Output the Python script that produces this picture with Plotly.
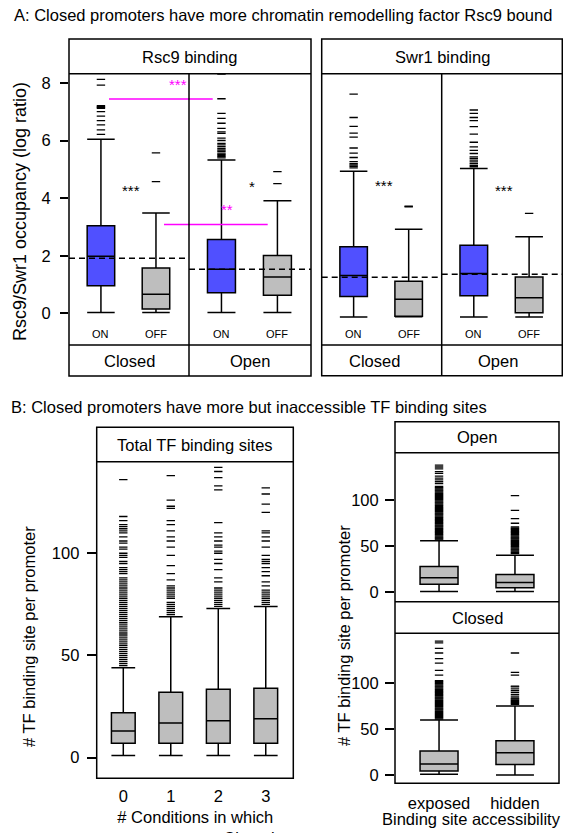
import plotly.graph_objects as go

W, H = 563, 833
FONT = "Liberation Sans, Arial, sans-serif"

# ---------------- DATA ----------------
onoff = ["ON", "OFF"]
# Rsc9 binding: Closed / Open, each ON / OFF  (lowerfence, q1, median, q3, upperfence)
rsc9_closed_stats = {"ON": [0.03, 0.96, 1.98, 3.04, 6.04], "OFF": [0.03, 0.15, 0.66, 1.57, 3.48]}
rsc9_open_stats = {"ON": [0.03, 0.71, 1.53, 2.56, 5.32], "OFF": [0.03, 0.63, 1.26, 2.01, 3.91]}
rsc9_closed_out = {"ON": [6.21, 6.37, 6.54, 6.69, 6.85, 7.0, 7.12, 7.15, 7.18, 7.21, 7.92, 8.12],
                   "OFF": [4.57, 5.57]}
rsc9_open_out = {"ON": [5.40, 5.44, 5.48, 5.52, 5.56, 5.62, 5.67, 5.73, 5.79, 5.85, 5.90, 6.0, 6.08,
                        6.25, 6.3, 6.42, 6.6, 6.77, 6.94, 7.45, 8.31, 8.45],
                 "OFF": [4.50, 4.92]}
rsc9_ref = {"Closed": 1.91, "Open": 1.53}

swr1_closed_stats = {"ON": [-0.13, 0.58, 1.31, 2.31, 4.93], "OFF": [-0.12, -0.10, 0.49, 1.11, 2.92]}
swr1_open_stats = {"ON": [-0.13, 0.61, 1.38, 2.36, 5.03], "OFF": [-0.13, 0.02, 0.54, 1.26, 2.66]}
swr1_closed_out = {"ON": [5.05, 5.1, 5.15, 5.2, 5.27, 5.41, 5.56, 5.74, 6.12, 6.26, 6.49, 6.8, 7.61],
                   "OFF": [3.70, 3.72]}
swr1_open_out = {"ON": [5.09, 5.14, 5.2, 5.26, 5.32, 5.38, 5.43, 5.55, 5.66, 5.78, 5.94, 6.22, 6.48,
                        6.69, 6.8, 6.94, 7.06],
                 "OFF": [3.47]}
swr1_ref = {"Closed": 1.25, "Open": 1.36}

rsc9_sig = {"Closed": ("***", 4.26), "Open": ("*", 4.4)}
swr1_sig = {"Closed": ("***", 4.45), "Open": ("***", 4.25)}
magenta_sig = [("***", 7.44, 7.93), ("**", 3.08, 3.59)]

# Total TF binding sites by # conditions closed
cond_labels = ["0", "1", "2", "3"]
tf_stats = [[1, 7, 13, 22, 44], [1, 7, 17, 32, 69], [1, 7, 18, 33.5, 73], [1, 7, 19, 34, 74]]
tf_out = [
    list(range(45, 89)) + [90, 91, 92, 93, 95, 96, 98, 99, 100, 102, 103, 105, 106, 108, 110, 111,
                           112, 113, 114, 116, 118, 136],
    [70, 71, 72, 73, 74, 75, 76, 78, 79, 80, 81, 82, 83, 84, 87, 90, 94, 99, 103, 106, 108, 111,
     114, 116, 122, 123, 126, 138],
    [74, 75, 76, 77, 78, 79, 80, 81, 82, 83, 86, 88, 92, 95, 97, 100, 101, 103, 104, 106, 108, 110,
     115, 131, 133, 137, 140, 142],
    [75, 76, 77, 78, 79, 80, 81, 82, 84, 86, 89, 91, 93, 95, 96, 97, 99, 103, 106, 108, 110, 111,
     120, 124, 129, 132],
]

# Binding site accessibility
access_labels = ["exposed", "hidden"]
open_stats = [[1, 8.7, 15.9, 28.2, 56], [1, 5, 10.8, 19.5, 40.4]]
open_out = [list(range(57, 116)) + [118, 120, 122, 124, 126, 129, 131, 134, 136, 138],
            list(range(42, 72)) + [75, 80, 89, 105]]
closed_stats = [[1, 4.4, 12, 26.2, 60], [0, 11.6, 24.4, 37.4, 75.2]]
closed_out = [list(range(61, 104)) + [109, 114, 122, 127, 133, 138, 144, 146],
              [77, 78, 79, 80, 81, 82, 83, 84, 86, 88, 90, 92, 94, 96, 97, 109, 112, 133]]

BLUE = "#5050FF"
GRAY = "#BEBEBE"
MAG = "#FF00FF"
FS = 16.5


def px(x):
    return x / W


def py(y):
    return 1 - y / H


fig = go.Figure()
layout = dict(width=W, height=H, margin=dict(l=0, r=0, t=0, b=0), showlegend=False,
              plot_bgcolor="white", paper_bgcolor="white", font=dict(family=FONT, color="black"))
shapes = []
annotations = []

LW = 1.5


def add_axis(n, xdom, ydom, xrange, yrange, **kw):
    xk = "xaxis" if n == 1 else f"xaxis{n}"
    yk = "yaxis" if n == 1 else f"yaxis{n}"
    ya = "y" if n == 1 else f"y{n}"
    xa = "x" if n == 1 else f"x{n}"
    xax = dict(domain=[px(xdom[0]), px(xdom[1])], range=xrange, anchor=ya, showgrid=False,
               zeroline=False, showticklabels=False, ticks="", fixedrange=True)
    yax = dict(domain=[py(ydom[1]), py(ydom[0])], range=yrange, anchor=xa, showgrid=False,
               zeroline=False, showticklabels=False, ticks="", fixedrange=True)
    xax.update(kw.get("x", {}))
    yax.update(kw.get("y", {}))
    layout[xk] = xax
    layout[yk] = yax
    return xa, ya


def add_box(xa, ya, pos, stats, fill, width=0.5):
    lo, q1, med, q3, hi = stats
    fig.add_trace(go.Box(x=[pos], lowerfence=[lo], q1=[q1], median=[med], q3=[q3], upperfence=[hi],
                         xaxis=xa, yaxis=ya, width=width, whiskerwidth=1, fillcolor=fill,
                         line=dict(color="black", width=LW), boxpoints=False, hoverinfo="skip"))


def add_out(xa, ya, pos, vals, size=6):
    fig.add_trace(go.Scatter(x=[pos] * len(vals), y=vals, mode="markers", xaxis=xa, yaxis=ya,
                             marker=dict(symbol="line-ew", size=size,
                                         line=dict(width=1.3, color="black")),
                             hoverinfo="skip"))


def rect(x0, y0, x1, y1):
    shapes.append(dict(type="rect", xref="paper", yref="paper", x0=px(x0), x1=px(x1), y0=py(y0),
                       y1=py(y1), line=dict(color="black", width=LW), layer="above"))


def hline(x0, x1, y):
    shapes.append(dict(type="line", xref="paper", yref="paper", x0=px(x0), x1=px(x1), y0=py(y),
                       y1=py(y), line=dict(color="black", width=LW), layer="above"))


def vline(x, y0, y1):
    shapes.append(dict(type="line", xref="paper", yref="paper", x0=px(x), x1=px(x), y0=py(y0),
                       y1=py(y1), line=dict(color="black", width=LW), layer="above"))


def text(x, y, s, size=FS, color="black", angle=0, xanchor="center"):
    annotations.append(dict(xref="paper", yref="paper", x=px(x), y=py(y), text=s, showarrow=False,
                            font=dict(size=size, color=color, family=FONT), textangle=angle,
                            xanchor=xanchor, yanchor="middle"))


# ---------------- Panel A ----------------
A_Y = [-1.1, 8.32]
A_X = [0.42, 2.6]
A_top, A_bot = 73.7, 345
ytick_A = dict(showticklabels=True, ticks="outside", ticklen=8, tickwidth=LW, tickcolor="black",
               tickvals=[0, 2, 4, 6, 8], tickfont=dict(size=FS, family=FONT),
               ticklabelstandoff=6)

panelsA = [
    (1, (69, 189), rsc9_closed_stats, rsc9_closed_out, rsc9_ref["Closed"], rsc9_sig["Closed"], True),
    (2, (189, 311), rsc9_open_stats, rsc9_open_out, rsc9_ref["Open"], rsc9_sig["Open"], False),
    (3, (321.7, 441.7), swr1_closed_stats, swr1_closed_out, swr1_ref["Closed"], swr1_sig["Closed"], False),
    (4, (441.7, 562.3), swr1_open_stats, swr1_open_out, swr1_ref["Open"], swr1_sig["Open"], False),
]
for n, xd, st, out, ref, sig, showy in panelsA:
    kw = {"y": ytick_A} if showy else {}
    xa, ya = add_axis(n, xd, (A_top, A_bot), A_X, A_Y, **kw)
    for i, k in enumerate(onoff):
        pos = i + 1
        add_box(xa, ya, pos, st[k], BLUE if k == "ON" else GRAY)
        add_out(xa, ya, pos, out[k])
        annotations.append(dict(xref=xa, yref=ya, x=pos, y=-0.72, text=k, showarrow=False,
                                font=dict(size=11, family=FONT)))
    shapes.append(dict(type="line", xref=f"{xa} domain", yref=ya, x0=0, x1=1, y0=ref, y1=ref,
                       line=dict(color="black", width=LW, dash="6px,4px")))
    annotations.append(dict(xref=xa, yref=ya, x=1.55, y=sig[1], text=sig[0], showarrow=False,
                            font=dict(size=15, family=FONT)))

# magenta significance lines between Closed and Open (Rsc9)
mag_x = [(109, 212.7, 166.7), (164, 267.7, 226.7)]
for (s, yl, yt), (x0, x1, xt) in zip(magenta_sig, mag_x):
    shapes.append(dict(type="line", xref="paper", yref="y", x0=px(x0), x1=px(x1), y0=yl, y1=yl,
                       line=dict(color=MAG, width=LW)))
    annotations.append(dict(xref="paper", yref="y", x=px(xt), y=yt, text=s, showarrow=False,
                            font=dict(size=15, color=MAG, family=FONT)))

# frames / strips for A
rect(69, 39, 311, 376); hline(69, 311, A_top); hline(69, 311, A_bot); vline(189, A_top, 376)
rect(321.7, 39, 562.3, 375.7); hline(321.7, 562.3, A_top); hline(321.7, 562.3, A_bot)
vline(441.7, A_top, 375.7)
text(190, 57, "Rsc9 binding")
text(442, 57, "Swr1 binding")
text(129, 361, "Closed"); text(250, 361, "Open")
text(374, 361, "Closed"); text(497.7, 361, "Open")
text(12, 15, "A: Closed promoters have more chromatin remodelling factor Rsc9 bound", xanchor="left")
text(20, 212, "Rsc9/Swr1 occupancy (log ratio)", size=18, angle=-90)

# ---------------- Panel B ----------------
text(9, 407, "B: Closed promoters have more but inaccessible TF binding sites", xanchor="left")

B_Y = [-10.1, 144.8]
xa, ya = add_axis(5, (96.7, 293.3), (461.7, 778.3), [-0.56, 3.58], B_Y,
                  x=dict(showticklabels=True, tickvals=[0, 1, 2, 3], ticktext=cond_labels,
                         tickfont=dict(size=FS, family=FONT), ticklabelstandoff=6),
                  y=dict(showticklabels=True, ticks="outside", ticklen=9, tickwidth=LW,
                         tickcolor="black", tickvals=[0, 50, 100],
                         tickfont=dict(size=FS, family=FONT), ticklabelstandoff=4))
for i in range(4):
    add_box(xa, ya, i, tf_stats[i], GRAY)
    add_out(xa, ya, i, tf_out[i])
rect(96.7, 427.3, 293.3, 778.3); hline(96.7, 293.3, 461.7)
text(195, 444.5, "Total TF binding sites")
text(195, 817, "# Conditions in which<br>promoters are Closed")
annotations[-1]["yanchor"] = "top"
annotations[-1]["y"] = py(806)
text(29, 637, "# TF binding site per promoter", angle=-90)

R_Y = [-10.1, 151.5]
ytick_R = dict(showticklabels=True, ticks="outside", ticklen=9, tickwidth=LW, tickcolor="black",
               tickvals=[0, 50, 100], tickfont=dict(size=FS, family=FONT), ticklabelstandoff=3)
xa6, ya6 = add_axis(6, (395, 559), (452.7, 601.7), [0.42, 2.58], R_Y, y=ytick_R)
xa7, ya7 = add_axis(7, (395, 559), (633.3, 783.3), [0.42, 2.58], [-9.0, 154.5], y=ytick_R,
                    x=dict(showticklabels=True, tickvals=[1, 2], ticktext=access_labels,
                           tickfont=dict(size=FS, family=FONT), ticklabelstandoff=8))
for i in range(2):
    add_box(xa6, ya6, i + 1, open_stats[i], GRAY)
    add_out(xa6, ya6, i + 1, open_out[i])
    add_box(xa7, ya7, i + 1, closed_stats[i], GRAY)
    add_out(xa7, ya7, i + 1, closed_out[i])
rect(395, 421.7, 559, 783.3); hline(395, 559, 452.7); hline(395, 559, 601.7); hline(395, 559, 633.3)
text(477, 437, "Open")
text(477, 617.5, "Closed")
text(471.7, 819, "Binding site accessibility")
text(344, 636, "# TF binding site per promoter", angle=-90)

layout["shapes"] = shapes
layout["annotations"] = annotations
fig.update_layout(**layout)
fig.write_html("out.html", config={"displayModeBar": False},
               post_script="document.body.style.margin='0';document.body.style.padding='0';"
                           "window.dispatchEvent(new Event('resize'));")
